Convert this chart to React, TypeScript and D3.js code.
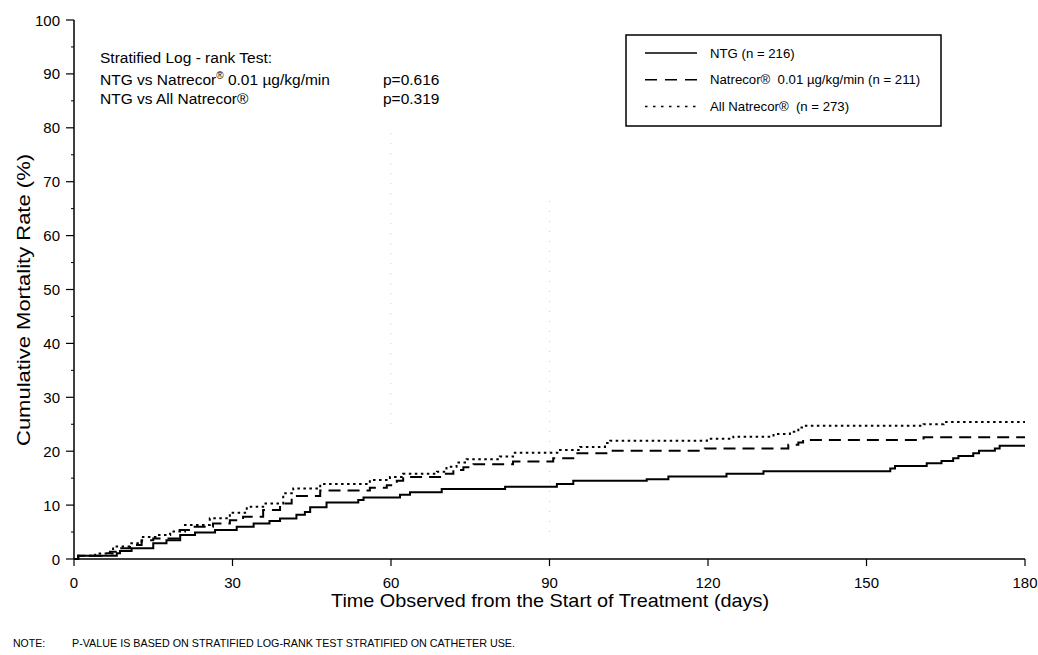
import React from "react";
import * as d3 from "d3";

// step points: [day, cumulative mortality %]
const ntgSteps: [number, number][] = [
  [0, 0], [0.8, 0.6], [8.1, 1.05], [8.7, 1.5], [10.9, 2.0], [15, 2.9], [17.5, 3.5],
  [20.1, 4.45], [22.9, 4.9], [26.7, 5.4], [30.8, 6.0], [34, 6.6], [37, 7.05], [39, 7.5],
  [42.1, 8.2], [43.7, 8.7], [44.7, 9.6], [47.8, 10.5], [53.8, 10.95], [54.8, 11.4],
  [61.7, 11.9], [63.6, 12.4], [69.6, 13.0], [81.6, 13.4], [91.4, 13.9], [94.5, 14.5],
  [108.4, 14.8], [112.5, 15.3], [123.5, 15.8], [130.5, 16.3], [154.5, 16.8],
  [155.4, 17.25], [161.4, 17.75], [164.2, 18.2], [166.4, 18.7], [167.4, 19.1],
  [170.2, 19.6], [171.3, 20.1], [174.3, 20.5], [175.2, 21.0], [180, 21.0],
];

const natrecor001Steps: [number, number][] = [
  [0, 0], [0.8, 0.6], [5.2, 1.05], [6.8, 1.35], [8.1, 2.0], [10.6, 2.6], [12.8, 3.5],
  [15, 3.8], [20, 5.4], [22.5, 6.0], [26.3, 6.6], [29.5, 7.2], [32, 7.85], [35.8, 9.1],
  [39, 10.3], [41.2, 11.7], [46.6, 12.7], [56, 13.2], [59.2, 13.7], [61.1, 14.5],
  [62.3, 15.2], [69.9, 15.8], [71.8, 16.5], [73.7, 17.0], [75.6, 17.6], [83.1, 18.1],
  [90.7, 18.7], [94.5, 19.6], [101.5, 20.1], [119.4, 20.5], [135.2, 21.2], [137.1, 21.6],
  [138, 22.1], [160.8, 22.6], [180, 22.6],
];

const allNatrecorSteps: [number, number][] = [
  [0, 0], [0.8, 0.6], [4, 1.0], [7.4, 2.3], [10.6, 2.9], [12.8, 4.1], [15.6, 4.45],
  [18.2, 5.1], [21, 6.3], [25.7, 7.55], [29.5, 8.6], [32.7, 9.7], [35.8, 10.3],
  [39.6, 12.2], [41.5, 13.1], [46.6, 13.9], [56, 14.65], [59.8, 15.2], [62.3, 15.8],
  [68.7, 16.2], [70.5, 17.1], [72.4, 17.9], [74.3, 18.5], [80.6, 19.0], [83.1, 19.7],
  [92, 20.2], [95.8, 20.8], [100.5, 21.5], [101.5, 21.95], [119.8, 22.3], [124.8, 22.7],
  [132.4, 23.2], [135.5, 23.6], [137.1, 24.4], [138, 24.7], [160.8, 25.0], [164.6, 25.4],
  [180, 25.4],
];

const xTicks = [0, 30, 60, 90, 120, 150, 180];
const yTicks = [0, 10, 20, 30, 40, 50, 60, 70, 80, 90, 100];
const yMinorTicks = [5, 15, 25, 35, 45, 55, 65, 75, 85, 95];

const legendLabels = [
  "NTG (n = 216)",
  "Natrecor\u00AE  0.01 \u00B5g/kg/min (n = 211)",
  "All Natrecor\u00AE  (n = 273)",
];
// faint scanner marks on the original at day 60 / 90 [day, from %, to %]
const faintMarks: [number, number, number][] = [
  [60, 25, 80],
  [90, 5, 67],
];

const W = 1038;
const H = 655;
const font = "'Liberation Sans', Arial, Helvetica, sans-serif";

export default function App() {
  const x = d3.scaleLinear().domain([0, 180]).range([74, 1025]);
  const y = d3.scaleLinear().domain([0, 100]).range([559, 20]);

  const stepLine = d3
    .line<[number, number]>()
    .x((d) => x(d[0]))
    .y((d) => y(d[1]))
    .curve(d3.curveStepAfter);

  const series = [
    { data: ntgSteps, dash: "none" },
    { data: natrecor001Steps, dash: "12 7" },
    { data: allNatrecorSteps, dash: "2.5 3.5" },
  ];
  const legendDash = ["none", "12 8", "2.5 5.5"];

  return (
    <svg
      width={W}
      height={H}
      style={{ position: "absolute", left: 0, top: 0, background: "#fff" }}
      fontFamily={font}
    >
      <rect width={W} height={H} fill="#fff" />

      {faintMarks.map(([d, a, b], i) => (
        <line
          key={i}
          x1={x(d)}
          x2={x(d)}
          y1={y(a)}
          y2={y(b)}
          stroke="#c8c8c8"
          strokeWidth={1}
          strokeDasharray="1 9"
        />
      ))}

      {/* axes */}
      <line x1={x(0)} x2={x(0)} y1={y(0)} y2={y(100)} stroke="#000" strokeWidth={1.5} />
      <line x1={x(0)} x2={x(180)} y1={y(0)} y2={y(0)} stroke="#000" strokeWidth={1.5} />
      {yTicks.map((t) => (
        <g key={t}>
          <line x1={x(0) - 8} x2={x(0)} y1={y(t)} y2={y(t)} stroke="#000" strokeWidth={1.2} />
          <text x={x(0) - 14} y={y(t) + 5.5} textAnchor="end" fontSize={15}>
            {t}
          </text>
        </g>
      ))}
      {yMinorTicks.map((t) => (
        <line key={t} x1={x(0) - 3} x2={x(0)} y1={y(t)} y2={y(t)} stroke="#000" strokeWidth={1} />
      ))}
      {xTicks.map((t) => (
        <g key={t}>
          <line x1={x(t)} x2={x(t)} y1={y(0)} y2={y(0) + 7} stroke="#000" strokeWidth={1.2} />
          <text x={x(t)} y={y(0) + 29} textAnchor="middle" fontSize={15}>
            {t}
          </text>
        </g>
      ))}
      <text x={550} y={607} textAnchor="middle" fontSize={19} textLength={438} lengthAdjust="spacingAndGlyphs">
        Time Observed from the Start of Treatment (days)
      </text>
      <text
        transform={`translate(30, 300) rotate(-90)`}
        textAnchor="middle"
        fontSize={18.5}
        textLength={292}
        lengthAdjust="spacingAndGlyphs"
      >
        Cumulative Mortality Rate (%)
      </text>

      {/* curves */}
      {series.map((s, i) => (
        <path
          key={i}
          d={stepLine(s.data) ?? ""}
          fill="none"
          stroke="#000"
          strokeWidth={2}
          strokeDasharray={s.dash}
        />
      ))}

      {/* test annotation */}
      <g fontSize={15.5}>
        <text x={100} y={63}>Stratified Log - rank Test:</text>
        <text x={100} y={85}>
          NTG vs Natrecor
          <tspan dy={-6} fontSize={10}>{"\u00AE"}</tspan>
          <tspan dy={6}> 0.01 {"\u00B5"}g/kg/min</tspan>
        </text>
        <text x={383} y={85}>p=0.616</text>
        <text x={100} y={104}>NTG vs All Natrecor{"\u00AE"}</text>
        <text x={383} y={104}>p=0.319</text>
      </g>

      {/* legend */}
      <rect x={626} y={35} width={315} height={91} fill="#fff" stroke="#000" strokeWidth={1.5} />
      {legendLabels.map((l, i) => (
        <g key={i}>
          <line
            x1={645}
            x2={697}
            y1={53 + i * 26.7}
            y2={53 + i * 26.7}
            stroke="#000"
            strokeWidth={1.5}
            strokeDasharray={legendDash[i]}
          />
          <text x={710} y={57.5 + i * 26.7} fontSize={13.2} style={{ whiteSpace: "pre" }}>
            {l}
          </text>
        </g>
      ))}

      {/* footnote */}
      <g fontSize={10.5}>
        <text x={13} y={647}>NOTE:</text>
        <text x={72} y={647} textLength={443} lengthAdjust="spacingAndGlyphs">
          P-VALUE IS BASED ON STRATIFIED LOG-RANK TEST STRATIFIED ON CATHETER USE.
        </text>
      </g>
    </svg>
  );
}
